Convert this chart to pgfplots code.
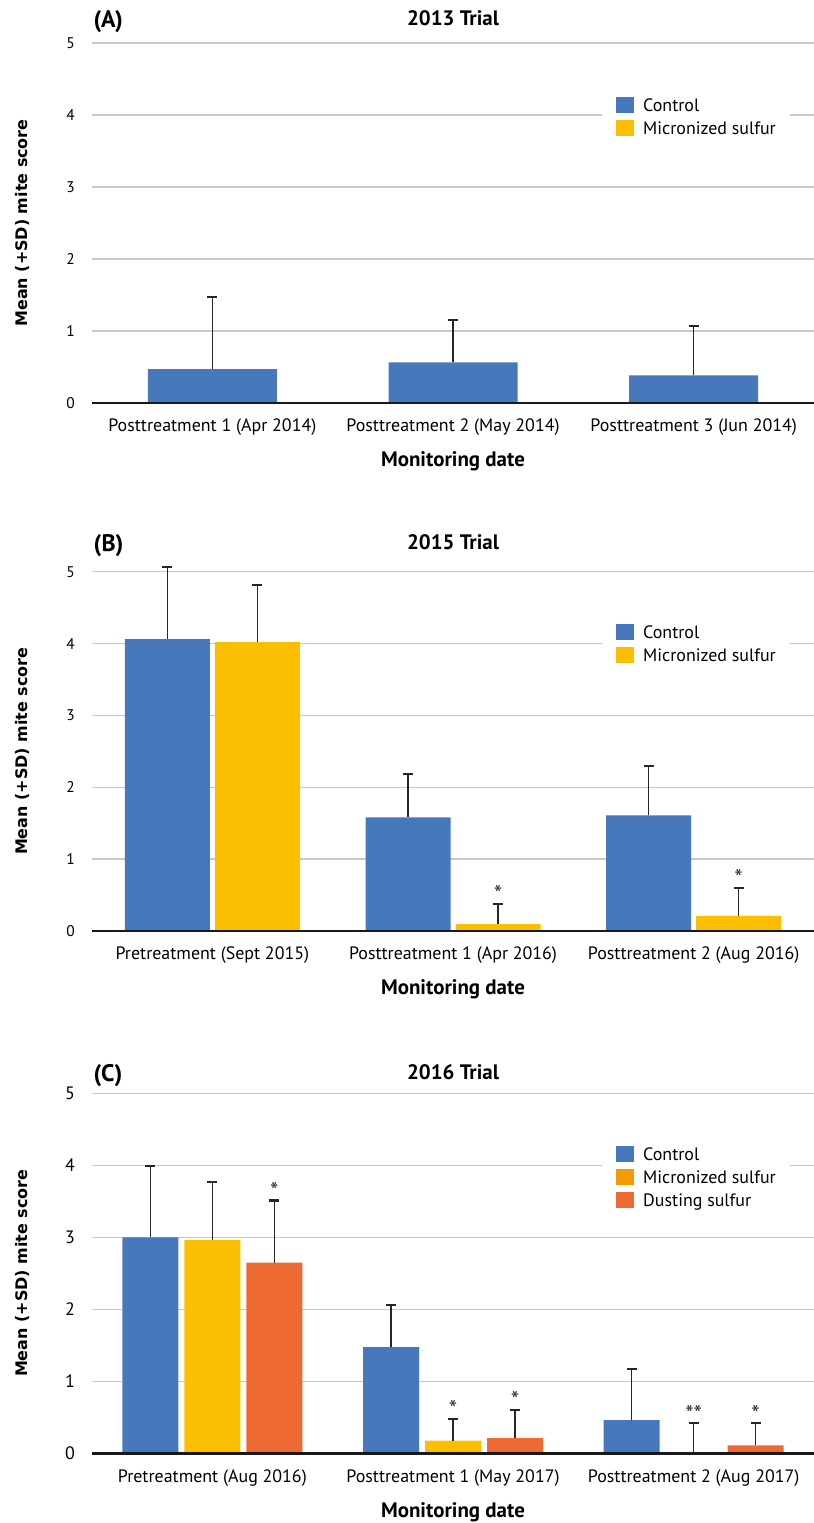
\documentclass[border=0pt]{standalone}
\usepackage{fontspec}
\setmainfont{PT Sans}
\newfontfamily\ylabfont{DejaVu Sans}
\usepackage{pgfplots}
\usepackage{pgfplotstable}
\pgfplotsset{compat=1.18}
\definecolor{cblue}{HTML}{4878BC}
\definecolor{cyel}{HTML}{FBBE00}
\definecolor{cora}{HTML}{EE6A33}
\definecolor{cyel2}{HTML}{F59B00}
\definecolor{gridc}{HTML}{C8C8C8}

\pgfplotstableread{
x c cerr
0 0.47 1.006
1 0.565 0.588
2 0.385 0.689
}\tA

\pgfplotstableread{
x c cerr m merr mlbl
0 4.06 1.01 4.02 0.79 {}
1 1.58 0.60 0.097 0.279 *
2 1.61 0.69 0.21 0.39 *
}\tB

\pgfplotstableread{
x c cerr m merr mlbl d derr dlbl
0 3.00 0.99 2.96 0.81 {} 2.65 0.86 *
1 1.476 0.584 0.175 0.305 * 0.21 0.395 *
2 0.46 0.715 0.02 0.397 ** 0.11 0.307 *
}\tC

\tikzset{plabel/.style={font=\fontsize{24}{26}\selectfont\bfseries, anchor=base west, inner sep=0pt, xshift=1.5bp, yshift=#1}}

\pgfplotsset{
  panel/.style={
    scale only axis, width=722bp, clip=false,
    ymin=0, ymax=5, xmin=-0.5, xmax=2.5,
    ytick={0,1,2,3,4,5}, xtick={0,1,2},
    axis line style={draw=none}, major tick length=0pt,
    ymajorgrids, grid style={gridc, line width=1.3bp},
    /pgf/number format/assume math mode=true,
    yticklabel style={font=\fontsize{15.5}{17}\selectfont, anchor=east, inner sep=0pt, xshift=-17bp},
    xticklabel style={font=\fontsize{18}{20}\selectfont, anchor=base, inner sep=0pt, yshift=-29bp},
    xlabel={Monitoring date},
    xlabel style={font=\fontsize{21}{24}\selectfont\bfseries, at={(rel axis cs:0.5,0)}, anchor=base, inner sep=0pt, yshift=-64bp},
    ylabel={Mean (+SD) mite score},
    ylabel style={font=\ylabfont\bfseries\fontsize{16}{18}\selectfont, at={(rel axis cs:-0.0963,0.5)}, anchor=center, inner sep=0pt},
    title style={font=\fontsize{21}{24}\selectfont\bfseries, at={(rel axis cs:0.5,1)}, anchor=base, inner sep=0pt},
    ybar,
    legend cell align=left,
    legend style={anchor=north west, draw=none, fill=white, inner xsep=14bp, inner ysep=4bp,
      row sep=4.3bp, column sep=9bp, font=\fontsize{18}{20}\selectfont,
      nodes={inner sep=0pt, text height=14.7bp, text depth=4bp, anchor=base west}},
    legend image code/.code={\fill[##1] (0bp,-1bp) rectangle (18bp,14.7bp);},
    after end axis/.code={\draw[black!90, line width=2.5bp] (rel axis cs:0,0) -- (rel axis cs:1,0);},
  },
  ebar/.style={
    /pgfplots/error bars/y dir=plus,
    /pgfplots/error bars/y explicit,
    /pgfplots/error bars/error bar style={line width=1.5bp, black!85},
    /pgfplots/error bars/error mark options={rotate=90, line width=2.2bp, mark size=5bp, black!85}},
  stars/.style={draw=none, fill=none, forget plot, bar shift=#1,
    point meta=explicit symbolic, nodes near coords,
    nodes near coords style={font=\fontsize{24}{24}\selectfont, anchor=base, inner sep=0pt, text=black!80, yshift=1bp}},
}

\begin{document}
\begin{tikzpicture}
\useasboundingbox (0,0) rectangle (814bp,1523bp);

% ---------------- Panel A
\begin{axis}[panel, at={(92bp,1120bp)}, anchor=south west, height=360bp,
  bar width=129bp, title={2013 Trial},
  title style={yshift=11.3bp},
  xticklabels={Posttreatment 1 (Apr 2014), Posttreatment 2 (May 2014), Posttreatment 3 (Jun 2014)},
  legend style={at={(rel axis cs:0.7064,0.8611)}}]
\addplot[fill=cblue, draw=none, bar shift=0bp, ebar] table[x=x, y=c, y error=cerr]{\tA};
\addlegendentry{Control}
\addlegendimage{fill=cyel, draw=none}
\addlegendentry{Micronized sulfur}
\node[plabel=15.3bp] at (rel axis cs:0,1) {(A)};
\end{axis}

% ---------------- Panel B
\begin{axis}[panel, at={(92bp,592bp)}, anchor=south west, height=359.3bp,
  bar width=85bp, title={2015 Trial},
  title style={yshift=16bp},
  xticklabels={Pretreatment (Sept 2015), Posttreatment 1 (Apr 2016), Posttreatment 2 (Aug 2016)},
  legend style={at={(rel axis cs:0.7064,0.8656)}}]
\addplot[fill=cblue, draw=none, bar shift=-45bp, ebar] table[x=x, y=c, y error=cerr]{\tB};
\addlegendentry{Control}
\addplot[fill=cyel, draw=none, bar shift=45bp, ebar] table[x=x, y=m, y error=merr]{\tB};
\addlegendentry{Micronized sulfur}
\addplot[stars=45bp] table[x=x, y expr=\thisrow{m}+\thisrow{merr}, meta=mlbl]{\tB};
\node[plabel=20bp] at (rel axis cs:0,1) {(B)};
\end{axis}

% ---------------- Panel C
\begin{axis}[panel, at={(92bp,69.7bp)}, anchor=south west, height=360bp,
  bar width=56bp, title={2016 Trial},
  title style={yshift=8.3bp},
  yticklabel style={font=\fontsize{18}{20}\selectfont},
  xticklabels={Pretreatment (Aug 2016), Posttreatment 1 (May 2017), Posttreatment 2 (Aug 2017)},
  legend style={at={(rel axis cs:0.7064,0.8647)}}]
\addplot[fill=cblue, draw=none, bar shift=-62bp, ebar] table[x=x, y=c, y error=cerr]{\tC};
\addlegendentry{Control}
\addplot[fill=cyel, draw=none, bar shift=0bp, ebar,
  legend image code/.code={\fill[cyel2] (0bp,-1bp) rectangle (18bp,14.7bp);}] table[x=x, y=m, y error=merr]{\tC};
\addlegendentry{Micronized sulfur}
\addplot[fill=cora, draw=none, bar shift=62bp, ebar] table[x=x, y=d, y error=derr]{\tC};
\addlegendentry{Dusting sulfur}
\addplot[stars=0bp] table[x=x, y expr=\thisrow{m}+\thisrow{merr}, meta=mlbl]{\tC};
\addplot[stars=62bp] table[x=x, y expr=\thisrow{d}+\thisrow{derr}, meta=dlbl]{\tC};
\node[plabel=12.3bp] at (rel axis cs:0,1) {(C)};
\end{axis}
\end{tikzpicture}
\end{document}
